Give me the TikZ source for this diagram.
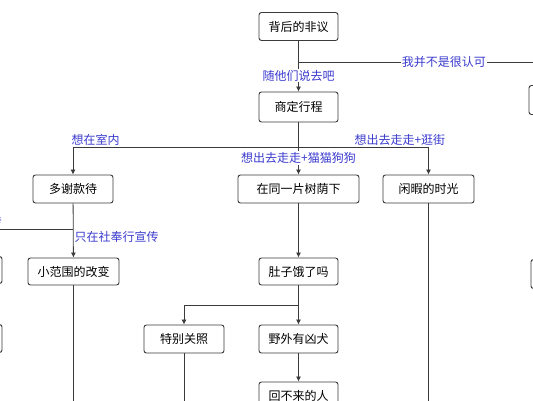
\documentclass[tikz,border=0pt]{standalone}
\usepackage{fontspec}
\usepackage{xcolor}
\usepackage{tikz}
\usetikzlibrary{arrows.meta,positioning}
\newfontfamily\cjk{Noto Sans CJK SC}
\definecolor{choiceblue}{HTML}{3B3BCF}
\definecolor{lineink}{HTML}{3A3A3A}
\tikzset{
  stepnode/.style={
    draw=lineink,
    fill=white,
    rounded corners=2.5pt,
    line width=0.9pt,
    minimum height=28pt,
    inner sep=2pt,
    font=\cjk\fontsize{12}{14}\selectfont
  },
  flowline/.style={-{Latex[length=5pt,width=5pt]},line width=0.8pt,draw=lineink},
  plainline/.style={line width=0.8pt,draw=lineink},
  choicelabel/.style={
    text=choiceblue,
    inner sep=1pt,
    font=\cjk\fontsize{12}{14}\selectfont
  }
}

\begin{document}
\begin{tikzpicture}[x=1pt,y=-1pt]
    \clip (0,0) rectangle (533,400);
    \fill[white] (0,0) rectangle (533,400);

    \node[stepnode,minimum width=79pt] (yiyi) at (298.5,26.5) {背后的非议};
    \node[stepnode,minimum width=79pt,minimum height=30pt] (xingcheng) at (298.5,107) {商定行程};
    \node[stepnode,minimum width=80pt] (kuandai) at (73,189) {多谢款待};
    \node[stepnode,minimum width=121pt] (shuyin) at (298.5,189) {在同一片树荫下};
    \node[stepnode,minimum width=91pt] (xiaxia) at (428.5,189) {闲暇的时光};
    \node[stepnode,minimum width=91pt,minimum height=27pt] (gaibian) at (73.5,271.5) {小范围的改变};
    \node[stepnode,minimum width=79pt,minimum height=27pt] (duzi) at (298.5,271.5) {肚子饿了吗};
    \node[stepnode,minimum width=80pt] (guanzhao) at (184,339) {特别关照};
    \node[stepnode,minimum width=79pt] (xiongquan) at (298.5,339) {野外有凶犬};
    \node[stepnode,minimum width=79pt] (huibulai) at (298.5,396) {回不来的人};

    % boxes cut by the frame
    \node[stepnode,minimum width=80pt,minimum height=29pt] (rightupper) at (569,100) {};
    \node[stepnode,minimum width=80pt,minimum height=29pt] (rightlower) at (571,274) {};
    \node[stepnode,minimum width=80pt,minimum height=27pt] (leftupper) at (-38,270) {};
    \node[stepnode,minimum width=80pt,minimum height=28pt] (leftlower) at (-38,338.5) {};

    \coordinate (splitA) at (298.5,62);
    \coordinate (offright) at (545,62);
    \coordinate (splitB) at (298.5,147);
    \coordinate (splitC) at (73,229);
    \coordinate (offleft) at (-20,229);
    \coordinate (splitD) at (298.5,305);
    \coordinate (gaibianout) at (73.5,410);
    \coordinate (guanzhaoout) at (184,410);
    \coordinate (xiaxiaout) at (428.5,410);

    \draw[flowline] (yiyi) -- node[choicelabel,fill=white,pos=0.69] {随他们说去吧} (xingcheng);
    \draw[plainline] (splitA) -- node[choicelabel,fill=white,pos=0.59] {我并不是很认可} (offright);

    \draw[plainline] (xingcheng) -- (splitB);
    \draw[flowline] (splitB) -| node[choicelabel,above,pos=0.45] {想在室内} (kuandai);
    \draw[flowline] (splitB) -| node[choicelabel,above,pos=0.39] {想出去走走+逛街} (xiaxia);
    \draw[flowline] (splitB) -- node[choicelabel,fill=white,pos=0.4] {想出去走走+猫猫狗狗} (shuyin);

    \draw[flowline] (kuandai) -- node[choicelabel,right,pos=0.62] {只在社奉行宣传} (gaibian);
    \draw[plainline] (splitC) -- node[choicelabel,above,pos=0.83] {传} (offleft);

    \draw[flowline] (shuyin) -- (duzi);
    \draw[flowline] (duzi) -- (xiongquan);
    \draw[flowline] (splitD) -| (guanzhao);
    \draw[flowline] (xiongquan) -- (huibulai);

    \draw[plainline] (gaibian) -- (gaibianout);
    \draw[plainline] (guanzhao) -- (guanzhaoout);
    \draw[plainline] (xiaxia) -- (xiaxiaout);
  \end{tikzpicture}
\end{document}
